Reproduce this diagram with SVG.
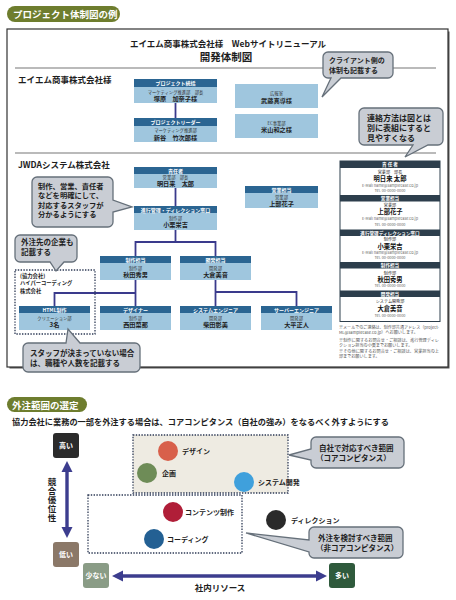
<svg xmlns="http://www.w3.org/2000/svg" width="456" height="600" viewBox="0 0 456 600">
<style>
text{font-family:"Noto Sans CJK JP","Noto Sans",sans-serif}
.pill{fill:#6e7d2e}
.pt{font-size:9.5px;font-weight:bold;fill:#fff}
.hd{fill:#2b6592}
.bd{fill:#9fc6de}
.ht{font-size:5px;font-weight:bold;fill:#fff;text-anchor:middle}
.dp{font-size:4.3px;fill:#333;text-anchor:middle}
.nm{font-size:6.2px;font-weight:bold;fill:#1e1e1e;text-anchor:middle}
.conn{stroke:#3a3a8c;stroke-width:1.8;fill:none}
.co{fill:#c9cdd4;stroke:#66707a;stroke-width:1.3}
.ct{font-size:7.5px;font-weight:bold;fill:#1e1e1e}
.sec{font-size:8.5px;font-weight:bold;fill:#1e1e1e}
.th{fill:#2d3e4c}
.tht{font-size:4.6px;font-weight:bold;fill:#fff;text-anchor:middle}
.tb{text-anchor:middle}
.td{font-size:4.1px;fill:#222}
.tn{font-size:6.3px;font-weight:bold;fill:#111}
.tm{font-size:3.8px;fill:#666}
.note{font-size:4.1px;fill:#555}
.dot{fill:none;stroke:#2e3a55;stroke-width:1.3;stroke-dasharray:1.4 1.4}
.cl{font-size:7px;font-weight:bold;fill:#1e1e1e}
.lv{font-size:7px;font-weight:bold;fill:#fff;text-anchor:middle}
.arr{stroke:#3c3d8e;stroke-width:3.4;fill:none}
.ah{fill:#3c3d8e}
.pa{font-size:5.3px;font-weight:bold;fill:#1e1e1e}
</style>

<!-- Section 1 title -->
<g id="title1">
<rect class="pill" x="7" y="6" width="113" height="16" rx="8"/>
<text class="pt" x="13" y="18">プロジェクト体制図の例</text>
</g>

<!-- frame -->
<g id="frame">
<rect x="9.5" y="31.5" width="440" height="337" fill="#555"/>
<rect x="7" y="29" width="441" height="338" fill="#fff" stroke="#333" stroke-width="1.2"/>
<text x="228" y="47" text-anchor="middle" font-size="8.5" font-weight="bold" fill="#1e1e1e">エイエム商事株式会社様　Webサイトリニューアル</text>
<text x="226" y="61" text-anchor="middle" font-size="10.5" font-weight="bold" fill="#1e1e1e">開発体制図</text>
<line x1="15" y1="68" x2="436" y2="68" stroke="#777" stroke-width="1.2"/>
<line x1="15" y1="153" x2="436" y2="153" stroke="#777" stroke-width="1.2"/>
<text class="sec" x="18" y="83">エイエム商事株式会社様</text>
<text class="sec" x="18" y="168">JWDAシステム株式会社</text>
</g>

<!-- connectors -->
<g id="connectors">
<line class="conn" x1="175.5" y1="103" x2="175.5" y2="118"/>
<line class="conn" x1="175.5" y1="188" x2="175.5" y2="206"/>
<polyline class="conn" points="175.5,230 175.5,242"/>
<polyline class="conn" points="135.5,256 135.5,242 215.5,242 215.5,256"/>
<line class="conn" x1="135.5" y1="280" x2="135.5" y2="306"/>
<polyline class="conn" points="135.5,293 54.5,293 54.5,306"/>
<line class="conn" x1="215.5" y1="280" x2="215.5" y2="306"/>
<polyline class="conn" points="215.5,292 296.5,292 296.5,306"/>
</g>

<!-- client side -->
<g id="n-tokatsu">
<rect class="hd" x="134" y="79" width="83" height="8"/>
<rect class="bd" x="134" y="87" width="83" height="16"/>
<text class="ht" x="175.5" y="85">プロジェクト統括</text>
<text class="dp" x="175.5" y="93.5">マーケティング推進部　部長</text>
<text class="nm" x="175.5" y="101">塚原　加奈子様</text>
</g>
<g id="n-leader">
<rect class="hd" x="134" y="118" width="83" height="8"/>
<rect class="bd" x="134" y="126" width="83" height="16"/>
<text class="ht" x="175.5" y="124">プロジェクトリーダー</text>
<text class="dp" x="175.5" y="132">マーケティング推進部</text>
<text class="nm" x="175.5" y="140">新谷　竹次郎様</text>
</g>
<g id="n-koho">
<rect class="bd" x="235" y="84" width="83" height="24"/>
<text class="dp" x="276.5" y="95">広報室</text>
<text class="nm" x="276.5" y="102.5">武藤真導様</text>
</g>
<g id="n-ec">
<rect class="bd" x="235" y="114" width="83" height="24"/>
<text class="dp" x="276.5" y="124.5">EC事業部</text>
<text class="nm" x="276.5" y="132">米山和之様</text>
</g>

<!-- vendor side -->
<g id="n-sekinin">
<rect class="hd" x="134" y="167" width="83" height="7"/>
<rect class="bd" x="134" y="174" width="83" height="14"/>
<text class="ht" x="175.5" y="172.5">責任者</text>
<text class="dp" x="175.5" y="179">営業部　部長</text>
<text class="nm" x="175.5" y="186">明日来　太郎</text>
</g>
<g id="n-shinko">
<rect class="hd" x="134" y="206" width="83" height="7"/>
<rect class="bd" x="134" y="213" width="83" height="17"/>
<text class="ht" x="175.5" y="211.5">進行管理・ディレクション窓口</text>
<text class="dp" x="175.5" y="219.5">制作部</text>
<text class="nm" x="175.5" y="227">小栗栄吉</text>
</g>
<g id="n-eigyo">
<rect class="hd" x="245" y="186" width="73" height="7"/>
<rect class="bd" x="245" y="193" width="73" height="15"/>
<text class="ht" x="281.5" y="191.5">営業担当</text>
<text class="dp" x="281.5" y="198.5">営業部</text>
<text class="nm" x="281.5" y="205.5">上部花子</text>
</g>
<g id="n-seisaku">
<rect class="hd" x="100" y="256" width="71" height="7"/>
<rect class="bd" x="100" y="263" width="71" height="17"/>
<text class="ht" x="135.5" y="261.5">制作担当</text>
<text class="dp" x="135.5" y="269.5">制作部</text>
<text class="nm" x="135.5" y="277">秋田秀男</text>
</g>
<g id="n-kaihatsu">
<rect class="hd" x="180" y="256" width="71" height="7"/>
<rect class="bd" x="180" y="263" width="71" height="17"/>
<text class="ht" x="215.5" y="261.5">開発担当</text>
<text class="dp" x="215.5" y="269.5">開発部</text>
<text class="nm" x="215.5" y="277">大倉美音</text>
</g>
<g id="n-partner">
<rect class="dot" x="15" y="270" width="80" height="64"/>
<text class="pa" x="20" y="277.5">(協力会社)</text>
<text class="pa" x="20" y="285.2">ハイパーコーディング</text>
<text class="pa" x="20" y="292.9">株式会社</text>
</g>
<g id="n-html">
<rect class="hd" x="19" y="306" width="71" height="7"/>
<rect class="bd" x="19" y="313" width="71" height="17"/>
<text class="ht" x="54.5" y="311.5">HTML制作</text>
<text class="dp" x="54.5" y="319.5">クリエーション部</text>
<text class="nm" x="54.5" y="327">3名</text>
</g>
<g id="n-designer">
<rect class="hd" x="100" y="306" width="71" height="7"/>
<rect class="bd" x="100" y="313" width="71" height="17"/>
<text class="ht" x="135.5" y="311.5">デザイナー</text>
<text class="dp" x="135.5" y="319.5">制作部</text>
<text class="nm" x="135.5" y="327">西田菜那</text>
</g>
<g id="n-se">
<rect class="hd" x="180" y="306" width="71" height="7"/>
<rect class="bd" x="180" y="313" width="71" height="17"/>
<text class="ht" x="215.5" y="311.5">システムエンジニア</text>
<text class="dp" x="215.5" y="319.5">開発部</text>
<text class="nm" x="215.5" y="327">柴田彰美</text>
</g>
<g id="n-server">
<rect class="hd" x="261" y="306" width="71" height="7"/>
<rect class="bd" x="261" y="313" width="71" height="17"/>
<text class="ht" x="296.5" y="311.5">サーバーエンジニア</text>
<text class="dp" x="296.5" y="319.5">開発部</text>
<text class="nm" x="296.5" y="327">大平正人</text>
</g>

<!-- contact table -->
<g id="contact-table">
<rect x="340" y="161" width="100" height="160.5" fill="#fff" stroke="#2d3e4c" stroke-width="1"/>
<rect class="th" x="340" y="161" width="100" height="7"/>
<text class="tht" x="390" y="166.3">責 任 者</text>
<text class="tb" x="390" y="173.5"><tspan class="td">営業部　部長</tspan><tspan class="tn" x="390" y="181">明日来 太郎</tspan><tspan class="tm" x="390" y="186.8">E-Mail name@samplecase.co.jp</tspan><tspan class="tm" x="390" y="192">Tel. 00-0000-0000</tspan></text>
<rect class="th" x="340" y="195" width="100" height="6.5"/>
<text class="tht" x="390" y="200">営業担当</text>
<text class="tb" x="390" y="207"><tspan class="td">営業部</tspan><tspan class="tn" x="390" y="214.3">上部花子</tspan><tspan class="tm" x="390" y="220.2">E-Mail name@samplecase.co.jp</tspan><tspan class="tm" x="390" y="225.5">Tel. 00-0000-0000</tspan></text>
<rect class="th" x="340" y="229.5" width="100" height="6.5"/>
<text class="tht" x="390" y="234.5">進行管理ディレクション窓口</text>
<text class="tb" x="390" y="241.3"><tspan class="td">制作部</tspan><tspan class="tn" x="390" y="248.5">小栗栄吉</tspan><tspan class="tm" x="390" y="254.3">E-Mail name@samplecase.co.jp</tspan><tspan class="tm" x="390" y="259.3">Tel. 00-0000-0000</tspan></text>
<rect class="th" x="340" y="262" width="100" height="6.5"/>
<text class="tht" x="390" y="267">制作担当</text>
<text class="tb" x="390" y="274.5"><tspan class="td">制作部</tspan><tspan class="tn" x="390" y="281.5">秋田秀男</tspan><tspan class="tm" x="390" y="287">Tel. 00-0000-0000</tspan></text>
<rect class="th" x="340" y="290.5" width="100" height="6.5"/>
<text class="tht" x="390" y="295.5">開発担当</text>
<text class="tb" x="390" y="303"><tspan class="td">システム開発部</tspan><tspan class="tn" x="390" y="310.5">大倉美音</tspan><tspan class="tm" x="390" y="316.5">Tel. 00-0000-0000</tspan></text>
</g>
<g id="notes">
<text class="note" x="339" y="328.5" textLength="100" lengthAdjust="spacingAndGlyphs">※メールでのご連絡は、制作部共通アドレス（project-</text>
<text class="note" x="339" y="333.5">ML@samplecase.co.jp）へお願いします。</text>
<text class="note" x="339" y="341.5" textLength="100" lengthAdjust="spacingAndGlyphs">※制作に関するお問合せ・ご相談は、進行管理ディレ</text>
<text class="note" x="339" y="346.5">クション担当の小栗までお願いします。</text>
<text class="note" x="339" y="352.5" textLength="100" lengthAdjust="spacingAndGlyphs">※その他に関するお問合せ・ご相談は、営業担当の上</text>
<text class="note" x="339" y="358">部までお願いします。</text>
</g>

<!-- callouts section 1 -->
<g id="c-client">
<path class="co" d="M328,52 H388 A5,5 0 0 1 393,57 V73 A5,5 0 0 1 388,78 H341 L322,97 L331,78 H328 A5,5 0 0 1 323,73 V57 A5,5 0 0 1 328,52 Z"/>
<text class="ct" x="329" y="63" style="font-size:7px">クライアント側の</text>
<text class="ct" x="329" y="73" style="font-size:7px">体制も記載する</text>
</g>
<g id="c-contact">
<path class="co" d="M364,108 H438 A5,5 0 0 1 443,113 V140 A5,5 0 0 1 438,145 H428 L405,157 L413,145 H364 A5,5 0 0 1 359,140 V113 A5,5 0 0 1 364,108 Z"/>
<text class="ct" x="367" y="121" style="font-size:8px">連絡方法は図とは</text>
<text class="ct" x="367" y="131" style="font-size:8px">別に表組にすると</text>
<text class="ct" x="367" y="141" style="font-size:8px">見やすくなる</text>
</g>
<g id="c-role">
<path class="co" d="M37,177 H108 A5,5 0 0 1 113,182 V200 L132,207 L113,212 V222 A5,5 0 0 1 108,227 H37 A5,5 0 0 1 32,222 V182 A5,5 0 0 1 37,177 Z"/>
<text class="ct" x="38" y="188.5" style="font-size:7.3px">制作、営業、責任者</text>
<text class="ct" x="38" y="198" style="font-size:7.3px">などを明確にして、</text>
<text class="ct" x="38" y="207.5" style="font-size:7.3px">対応するスタッフが</text>
<text class="ct" x="38" y="217" style="font-size:7.3px">分かるようにする</text>
</g>
<g id="c-vendor">
<path class="co" d="M20,235 H72 A5,5 0 0 1 77,240 V257 A5,5 0 0 1 72,262 H64 L56,271 L50,262 H20 A5,5 0 0 1 15,257 V240 A5,5 0 0 1 20,235 Z"/>
<text class="ct" x="21" y="245">外注先の企業も</text>
<text class="ct" x="21" y="255">記載する</text>
</g>
<g id="c-staff">
<path class="co" d="M28,343 H66 L68,329 L80,343 H135 A5,5 0 0 1 140,348 V367 A5,5 0 0 1 135,372 H28 A5,5 0 0 1 23,367 V348 A5,5 0 0 1 28,343 Z"/>
<text class="ct" x="30" y="356">スタッフが決まっていない場合</text>
<text class="ct" x="30" y="366">は、職種や人数を記載する</text>
</g>

<!-- Section 2 -->
<g id="title2">
<rect class="pill" x="7" y="397" width="80" height="15" rx="7.5"/>
<text class="pt" x="12" y="408.5">外注範囲の選定</text>
<text x="12" y="425" font-size="8.2" font-weight="bold" fill="#1e1e1e" textLength="377" lengthAdjust="spacingAndGlyphs">協力会社に業務の一部を外注する場合は、コアコンピタンス（自社の強み）をなるべく外すようにする</text>
</g>

<g id="region-core">
<rect class="dot" x="133" y="435" width="155" height="58" style="fill:#eeebe2"/>
</g>
<g id="region-noncore">
<rect class="dot" x="88" y="495" width="154" height="58"/>
</g>

<g id="axes">
<line class="arr" x1="67" y1="470" x2="67" y2="529"/>
<polygon class="ah" points="67,461 61.5,472 72.5,472"/>
<polygon class="ah" points="67,538 61.5,527 72.5,527"/>
<line class="arr" x1="120" y1="576" x2="318" y2="576"/>
<polygon class="ah" points="112,576 123,570.5 123,581.5"/>
<polygon class="ah" points="327,576 316,570.5 316,581.5"/>
</g>
<g id="axis-labels">
<text x="52" y="478" font-size="8.5" font-weight="bold" fill="#1e1e1e" writing-mode="vertical-rl" letter-spacing="0.3">競合優位性</text>
<text x="220" y="591" font-size="8.5" font-weight="bold" text-anchor="middle" fill="#1e1e1e">社内リソース</text>
</g>
<g id="n-high">
<rect x="53" y="433" width="26" height="25" rx="3" fill="#2b2b2b"/>
<text class="lv" x="66" y="448">高い</text>
</g>
<g id="n-low">
<rect x="53" y="542" width="26" height="25" rx="3" fill="#8b7868"/>
<text class="lv" x="66" y="557">低い</text>
</g>
<g id="n-few">
<rect x="83" y="563" width="26" height="25" rx="3" fill="#8a9c86"/>
<text class="lv" x="96" y="578">少ない</text>
</g>
<g id="n-many">
<rect x="329" y="563" width="26" height="25" rx="3" fill="#2f5a3c"/>
<text class="lv" x="342" y="578">多い</text>
</g>

<g id="n-design">
<circle cx="168" cy="451" r="10" fill="#d8604b"/>
<text class="cl" x="182" y="453.5">デザイン</text>
</g>
<g id="n-kikaku">
<circle cx="147" cy="473" r="10" fill="#6e8c57"/>
<text class="cl" x="162" y="475.5">企画</text>
</g>
<g id="n-system">
<circle cx="244" cy="482" r="10" fill="#3fa0dc"/>
<text class="cl" x="258" y="484.5">システム開発</text>
</g>
<g id="n-contents">
<circle cx="173" cy="512" r="10" fill="#b01e38"/>
<text class="cl" x="185" y="514.5">コンテンツ制作</text>
</g>
<g id="n-coding">
<circle cx="154" cy="539" r="10" fill="#236093"/>
<text class="cl" x="167" y="541.5">コーディング</text>
</g>
<g id="n-direction">
<circle cx="276" cy="520" r="10" fill="#2a2a2a"/>
<text class="cl" x="291" y="522.5">ディレクション</text>
</g>

<g id="c-core">
<path class="co" d="M316,437 H399 A5,5 0 0 1 404,442 V463 A5,5 0 0 1 399,468 H316 A5,5 0 0 1 311,463 V460 L289,455 L311,449 V442 A5,5 0 0 1 316,437 Z"/>
<text class="ct" x="319" y="451">自社で対応すべき範囲</text>
<text class="ct" x="316" y="461">（コアコンピタンス）</text>
</g>
<g id="c-noncore">
<path class="co" d="M314,527 H398 A5,5 0 0 1 403,532 V553 A5,5 0 0 1 398,558 H314 A5,5 0 0 1 309,553 V552 L246,533 L309,540 V532 A5,5 0 0 1 314,527 Z"/>
<text class="ct" x="318" y="541">外注を検討すべき範囲</text>
<text class="ct" x="316" y="551">（非コアコンピタンス）</text>
</g>
</svg>
